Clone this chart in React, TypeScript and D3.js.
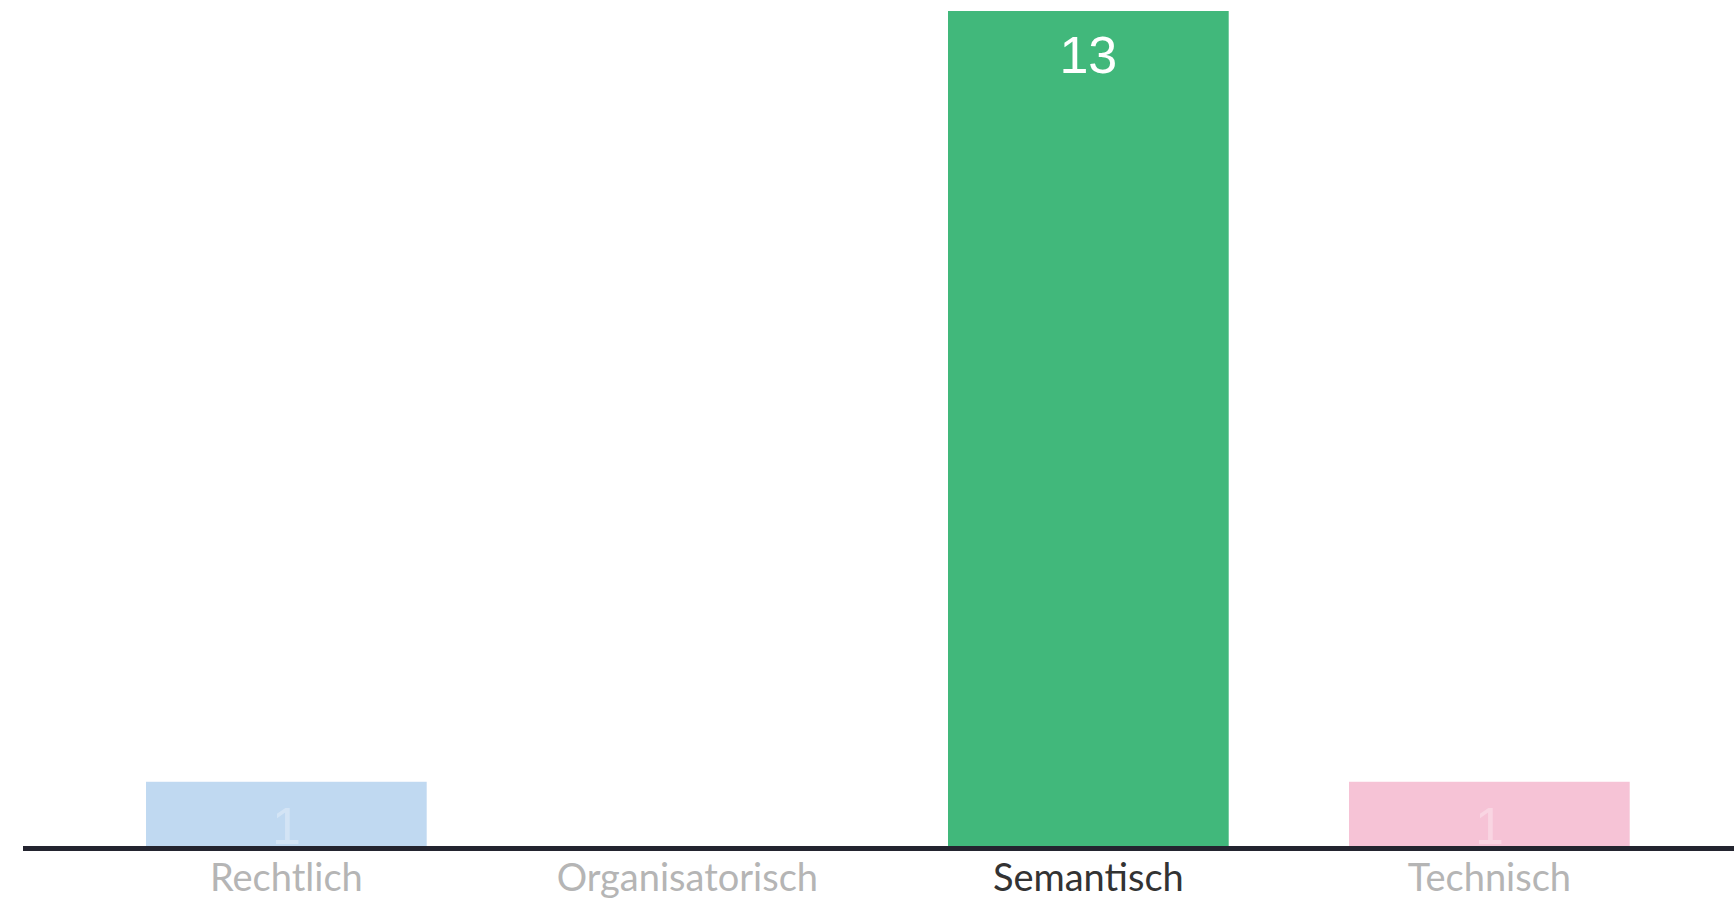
import React from "react";
import * as d3 from "d3";

const categories = ["Rechtlich", "Organisatorisch", "Semantisch", "Technisch"];
const values = [1, 0, 13, 1];
const barColors = ["#c0d9f1", "#c0d9f1", "#41b87b", "#f6c3d6"];
const labelColors = ["#b5b5b5", "#b5b5b5", "#333333", "#b5b5b5"];
const valueLabelOpacity = [0.3, 0, 1, 0.3];

export default function App() {
  const W = 1734;
  const H = 898;
  const x = d3
    .scaleBand<string>()
    .domain(categories)
    .range([25.7, 25.7 + 401 * 4.3])
    .paddingInner(0.3)
    .paddingOuter(0.3);
  const y = d3.scaleLinear().domain([0, 13]).range([846, 11]);

  return (
    <svg
      width={W}
      height={H}
      style={{ position: "absolute", left: 0, top: 0, background: "#ffffff" }}
    >
      {categories.map((c, i) =>
        values[i] > 0 ? (
          <rect
            key={c}
            x={x(c)}
            y={y(values[i])}
            width={x.bandwidth()}
            height={y(0) - y(values[i])}
            fill={barColors[i]}
          />
        ) : null
      )}
      {categories.map((c, i) =>
        values[i] > 0 ? (
          <text
            key={c + "-v"}
            x={(x(c) as number) + x.bandwidth() / 2}
            y={y(values[i]) + 62}
            textAnchor="middle"
            fontFamily="Liberation Sans, Arial, sans-serif"
            fontSize={52}
            fill="#ffffff"
            fillOpacity={valueLabelOpacity[i]}
          >
            {values[i]}
          </text>
        ) : null
      )}
      <line x1={23} x2={W} y1={848.5} y2={848.5} stroke="#23242f" strokeWidth={5} />
      {categories.map((c, i) => (
        <text
          key={c + "-l"}
          x={(x(c) as number) + x.bandwidth() / 2}
          y={891}
          textAnchor="middle"
          fontFamily="Lato, 'Noto Sans', sans-serif"
          fontSize={38}
          fill={labelColors[i]}
        >
          {c}
        </text>
      ))}
    </svg>
  );
}
